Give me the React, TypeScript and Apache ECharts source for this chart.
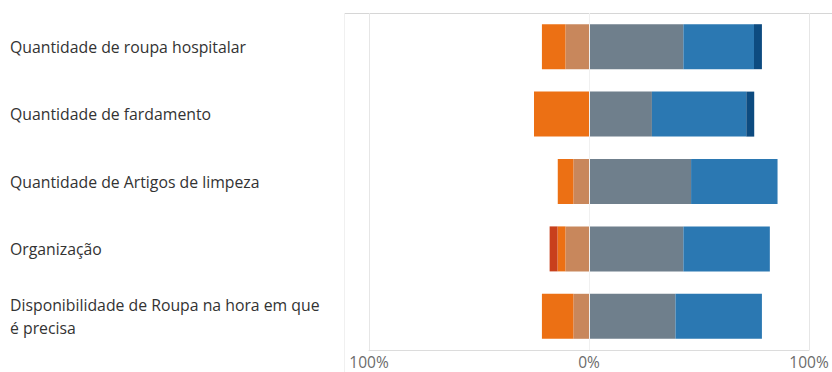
import React, { useEffect, useRef } from "react";
import * as echarts from "echarts";

const categories = [
  "Quantidade de roupa hospitalar",
  "Quantidade de fardamento",
  "Quantidade de Artigos de limpeza",
  "Organização",
  "Disponibilidade de Roupa na hora em que é precisa",
];

// percentages (negative side values stored as positive magnitudes)
const muitoInsatisfeito = [0, 0, 0, 3.6, 0];
const insatisfeito = [10.7, 25.0, 7.1, 3.6, 14.3];
const poucoSatisfeito = [10.7, 0, 7.1, 10.7, 7.1];
const satisfeito = [42.9, 28.6, 46.4, 42.9, 39.3];
const muitoSatisfeito = [32.1, 42.9, 39.3, 39.3, 39.3];
const totalmenteSatisfeito = [3.6, 3.6, 0, 0, 0];

const xTicks = [-100, 0, 100];

export default function App() {
  const ref = useRef<HTMLDivElement>(null);
  useEffect(() => {
    if (!ref.current) return;
    const chart = echarts.init(ref.current, undefined, { renderer: "svg" });
    const cats = [...categories].reverse();
    const rev = (a: number[], neg = false) =>
      [...a].reverse().map((v) => (neg ? -v : v));
    const base = {
      type: "bar" as const,
      stack: "total",
      barWidth: 45,
      emphasis: { disabled: true },
    };
    chart.setOption({
      animation: false,
      grid: { left: 369, right: 23, top: 13, bottom: 22, containLabel: false },
      xAxis: {
        type: "value",
        min: xTicks[0],
        max: xTicks[xTicks.length - 1],
        interval: 100,
        axisLine: { show: true, lineStyle: { color: "#dcdcdc" } },
        axisTick: { show: false },
        splitLine: { show: true, lineStyle: { color: "#e6e6e6" } },
        axisLabel: {
          formatter: (v: number) => Math.abs(v) + "%",
          color: "#6b6b6b",
          fontSize: 15.5,
          fontFamily: "Open Sans",
          margin: 4,
          lineHeight: 16,
        },
      },
      yAxis: {
        type: "category",
        data: cats,
        axisLine: { show: false },
        axisTick: { show: false },
        splitLine: { show: false },
        axisLabel: {
          align: "left",
          margin: 359,
          color: "#333333",
          fontSize: 15.8,
          fontFamily: "Open Sans",
          width: 318,
          overflow: "break",
          lineHeight: 23,
        },
      },
      graphic: [
        {
          type: "line",
          shape: { x1: 344, y1: 13.5, x2: 832, y2: 13.5 },
          style: { stroke: "#d6d6d6", lineWidth: 1 },
          silent: true,
        },
        {
          type: "line",
          shape: { x1: 344.5, y1: 13, x2: 344.5, y2: 372 },
          style: { stroke: "#f0f0f0", lineWidth: 1 },
          silent: true,
        },
      ],
      series: [
        {
          ...base,
          name: "Pouco satisfeito",
          data: rev(poucoSatisfeito, true),
          itemStyle: { color: "#c8875c" },
          markLine: {
            silent: true,
            symbol: "none",
            label: { show: false },
            lineStyle: { color: "#f0f0f0", type: "solid", width: 1 },
            data: [{ xAxis: 0 }],
          },
        },
        {
          ...base,
          name: "Insatisfeito",
          data: rev(insatisfeito, true),
          itemStyle: { color: "#ec7014" },
        },
        {
          ...base,
          name: "Muito insatisfeito",
          data: rev(muitoInsatisfeito, true),
          itemStyle: { color: "#c8401c" },
        },
        {
          ...base,
          name: "Satisfeito",
          data: rev(satisfeito),
          itemStyle: { color: "#6f7f8c" },
        },
        {
          ...base,
          name: "Muito satisfeito",
          data: rev(muitoSatisfeito),
          itemStyle: { color: "#2b78b2" },
        },
        {
          ...base,
          name: "Totalmente satisfeito",
          data: rev(totalmenteSatisfeito),
          itemStyle: { color: "#0d4b80" },
        },
      ],
    });
    return () => chart.dispose();
  }, []);
  return (
    <div
      ref={ref}
      style={{ position: "absolute", left: 0, top: 0, width: 832, height: 372 }}
    />
  );
}
